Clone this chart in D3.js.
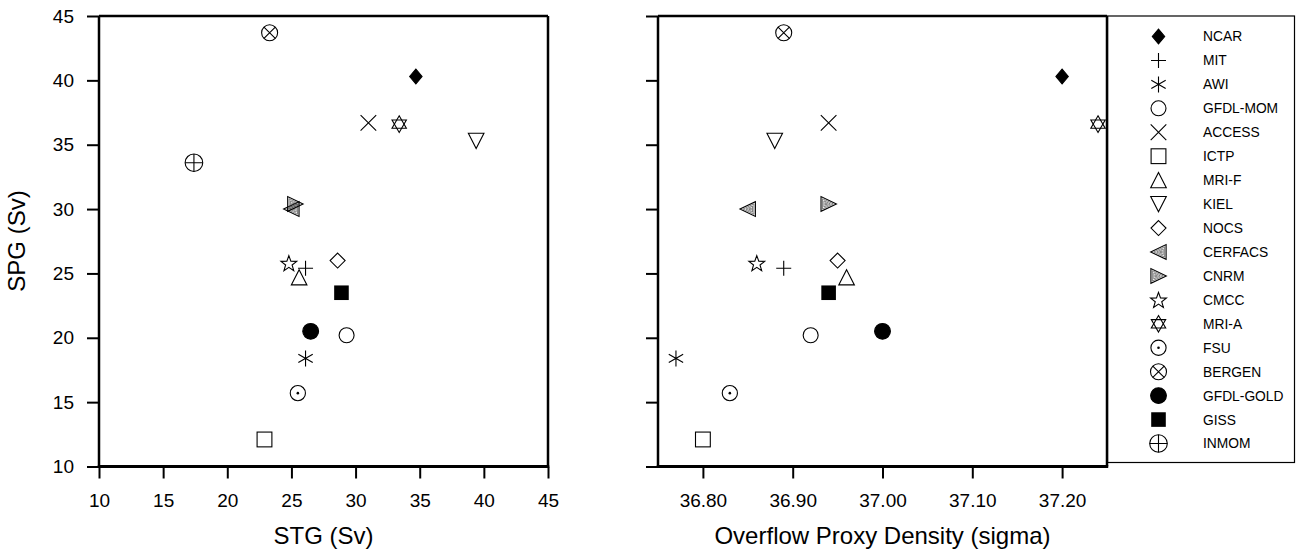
<!DOCTYPE html>
<html><head><meta charset="utf-8">
<script src="https://cdn.jsdelivr.net/npm/d3@7"></script>
<style>body{margin:0;background:#fff}svg{display:block}text{font-family:"Liberation Sans",Arial,Helvetica,sans-serif;fill:#000}</style>
</head><body><svg id="c" width="1303" height="552"></svg>
<script>
// ---- data ----
const models = ["NCAR","MIT","AWI","GFDL-MOM","ACCESS","ICTP","MRI-F","KIEL","NOCS","CERFACS","CNRM","CMCC","MRI-A","FSU","BERGEN","GFDL-GOLD","GISS","INMOM"];
const markerKinds = ["diamondFilled","plus","asterisk","circle","cross","square","triUp","triDown","diamond","nestedLeft","nestedRight","star","hexagram","circleDot","circleX","circleFilled","squareFilled","circlePlus"];
const stg = [34.7, 26.1, 26.1, 29.3, 31.0, 22.9, 25.6, 39.4, 28.6, 25.0, 25.3, 24.8, 33.4, 25.5, 23.3, 26.5, 28.9, 17.4];
const spg = [40.3, 25.4, 18.4, 20.2, 36.7, 12.1, 24.7, 35.3, 26.0, 30.0, 30.4, 25.8, 36.6, 15.7, 43.7, 20.5, 23.5, 33.6];
const density = [37.20, 36.89, 36.77, 36.92, 36.94, 36.80, 36.96, 36.88, 36.95, 36.85, 36.94, 36.86, 37.24, 36.83, 36.89, 37.00, 36.94, null];
const stgTicks = [10, 15, 20, 25, 30, 35, 40, 45];
const spgTicks = [10, 15, 20, 25, 30, 35, 40, 45];
const densTicks = [36.80, 36.90, 37.00, 37.10, 37.20];
const stgTitle = "STG (Sv)", spgTitle = "SPG (Sv)", densTitle = "Overflow Proxy Density (sigma)";

// ---- drawing ----
const svg = d3.select("#c");
const topY = 16, bottomY = 466.5;
const y = d3.scaleLinear().domain([10, 45]).range([bottomY, topY]);
const xL = d3.scaleLinear().domain([10, 45]).range([99, 548]);
const xR = d3.scaleLinear().domain([36.75, 37.25]).range([658, 1107]);
const SW = 1.1;

function drawMarker(g, kind) {
  const s = g.attr("fill", "none").attr("stroke", "#000").attr("stroke-width", SW);
  const p = d => s.append("path").attr("d", d);
  const tri = (pts) => "M" + pts.map(q => q.join(",")).join("L") + "Z";
  switch (kind) {
    case "diamondFilled": p("M0,-7.4L6.2,0L0,7.4L-6.2,0Z").attr("fill", "#000"); break;
    case "plus": p("M-7.5,0H7.5M0,-7.5V7.5"); break;
    case "asterisk": p("M0,-8V8M-7.2,-4.2L7.2,4.2M-7.2,4.2L7.2,-4.2"); break;
    case "circle": s.append("circle").attr("r", 7.5); break;
    case "cross": p("M-7.8,-7.8L7.8,7.8M-7.8,7.8L7.8,-7.8"); break;
    case "square": s.append("rect").attr("x", -7.4).attr("y", -7.4).attr("width", 14.8).attr("height", 14.8); break;
    case "triUp": p("M0,-7.6L7.8,7.6L-7.8,7.6Z"); break;
    case "triDown": p("M0,7.6L7.8,-7.6L-7.8,-7.6Z"); break;
    case "diamond": p("M0,-7.5L7.5,0L0,7.5L-7.5,0Z"); break;
    case "nestedLeft":
    case "nestedRight": {
      const dir = kind === "nestedLeft" ? -1 : 1;
      const cx = dir * -2.6;
      [1, 0.7, 0.42, 0.16].forEach(k => {
        const pts = [[dir * 7.8, 0], [-dir * 7.6, -7.4], [-dir * 7.6, 7.4]].map(q => [cx + (q[0] - cx) * k, q[1] * k]);
        p(tri(pts)).attr("stroke-width", k === 1 ? SW : 0.6).attr("stroke", k === 1 ? "#000" : "#333");
      });
      break;
    }
    case "star": {
      const R = 8.3, r = 3.4, pts = [];
      for (let i = 0; i < 10; i++) {
        const a = -Math.PI / 2 + i * Math.PI / 5, rr = i % 2 ? r : R;
        pts.push([rr * Math.cos(a), rr * Math.sin(a) + 0.8]);
      }
      p(tri(pts)); break;
    }
    case "hexagram": {
      const R = 8.3, h = R * Math.sqrt(3) / 2;
      p(tri([[0, -R], [h, R / 2], [-h, R / 2]]));
      p(tri([[0, R], [h, -R / 2], [-h, -R / 2]]));
      break;
    }
    case "circleDot": s.append("circle").attr("r", 7.6); s.append("circle").attr("r", 1.3).attr("fill", "#000").attr("stroke", "none"); break;
    case "circleX": s.append("circle").attr("r", 8); p("M-5.66,-5.66L5.66,5.66M-5.66,5.66L5.66,-5.66"); break;
    case "circleFilled": s.append("circle").attr("r", 7.9).attr("fill", "#000"); break;
    case "squareFilled": s.append("rect").attr("x", -7.3).attr("y", -7.3).attr("width", 14.6).attr("height", 14.6).attr("fill", "#000").attr("stroke", "none"); break;
    case "circlePlus": s.append("circle").attr("r", 8.8); p("M-8.8,0H8.8M0,-8.8V8.8"); break;
  }
}

function panel(x, xvals, xTicks, fmt, title, showYLabels) {
  const [x0, x1] = x.range();
  const ya = svg.append("g").attr("transform", `translate(${x0},0)`)
    .call(d3.axisLeft(y).tickValues(spgTicks).tickSize(12).tickSizeOuter(0).tickPadding(13)
      .tickFormat(showYLabels ? d3.format("d") : () => ""));
  const xa = svg.append("g").attr("transform", `translate(0,${bottomY})`)
    .call(d3.axisBottom(x).tickValues(xTicks).tickSize(12).tickSizeOuter(0).tickPadding(15).tickFormat(fmt));
  [ya, xa].forEach(a => {
    a.select(".domain").remove();
    a.selectAll(".tick line").attr("stroke", "#000").attr("stroke-width", 2);
    a.selectAll(".tick text").attr("font-size", 19).attr("font-family", '"Liberation Sans",Arial,sans-serif');
  });
  const f = svg.append("g").attr("stroke", "#000").attr("fill", "none");
  f.append("line").attr("x1", x0).attr("x2", x1).attr("y1", topY).attr("y2", topY).attr("stroke-width", 2.5);
  f.append("line").attr("x1", x0).attr("x2", x0).attr("y1", topY).attr("y2", bottomY).attr("stroke-width", 2.5);
  f.append("line").attr("x1", x1).attr("x2", x1).attr("y1", topY).attr("y2", bottomY).attr("stroke-width", 2.5);
  f.append("line").attr("x1", x0 - 1.2).attr("x2", x1 + 1.2).attr("y1", bottomY).attr("y2", bottomY).attr("stroke-width", 3);
  svg.append("text").attr("x", (x0 + x1) / 2).attr("y", 544).attr("text-anchor", "middle").attr("font-size", 24).text(title);
  models.forEach((m, i) => {
    if (xvals[i] == null) return;
    const g = svg.append("g").attr("transform", `translate(${x(xvals[i])},${y(spg[i])})`);
    drawMarker(g, markerKinds[i]);
  });
}

panel(xL, stg, stgTicks, d3.format("d"), stgTitle, true);
panel(xR, density, densTicks, d3.format(".2f"), densTitle, false);

svg.append("text").attr("transform", "translate(25,241) rotate(-90)").attr("text-anchor", "middle").attr("font-size", 24).text(spgTitle);

svg.append("rect").attr("x", 1107.5).attr("y", 16).attr("width", 187).attr("height", 446.5)
  .attr("fill", "none").attr("stroke", "#000").attr("stroke-width", 1.2);
const ly = d3.scaleLinear().domain([0, models.length - 1]).range([36.5, 443.5]);
models.forEach((m, i) => {
  const g = svg.append("g").attr("transform", `translate(1158.5,${ly(i)})`);
  drawMarker(g, markerKinds[i]);
  svg.append("text").attr("x", 1203).attr("y", ly(i)).attr("dy", "0.36em").attr("font-size", 13.8).text(m);
});
</script></body></html>
